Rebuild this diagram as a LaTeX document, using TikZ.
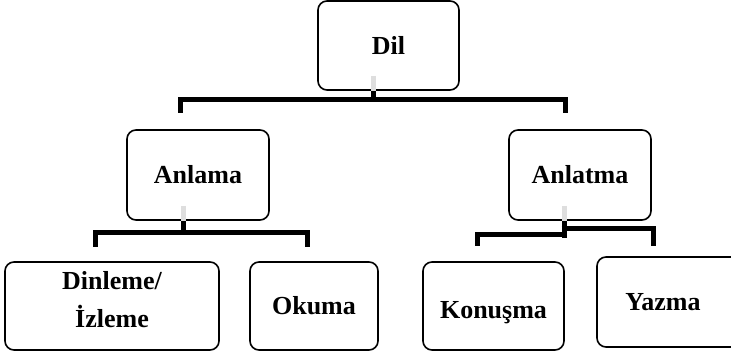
\documentclass[tikz,border=0pt]{standalone}
\usepackage{fontspec}
\setmainfont{Liberation Serif}
\begin{document}
\begin{tikzpicture}[x=1pt,y=-1pt,
  box/.style={draw=black,line width=1.6pt,rounded corners=9pt,fill=white,
    font=\fontsize{26}{38}\selectfont\bfseries,align=center,inner sep=0pt},
  bus/.style={line width=5pt,black,line cap=butt,line join=miter},
  stub/.style={line width=5pt,black!13}]
\useasboundingbox (0,0) rectangle (731,355);
\clip (0,0) rectangle (731,355);
% boxes
\node[box,minimum width=141pt,minimum height=89pt] (dil) at (388.5,45.5) {Dil};
\node[box,minimum width=142pt,minimum height=90pt] (anlama) at (198,175) {Anlama};
\node[box,minimum width=142pt,minimum height=90pt] (anlatma) at (580,175) {Anlatma};
\node[box,minimum width=214pt,minimum height=88pt] (dinleme) at (112,306) {\raisebox{5pt}[\height][\depth]{\begin{tabular}{@{}c@{}}Dinleme/\\İzleme\end{tabular}}};
\node[box,minimum width=128pt,minimum height=88pt] (okuma) at (314,306) {Okuma};
\node[box,minimum width=141pt,minimum height=88pt] (konusma) at (493.5,306) {\raisebox{-7pt}[\height][\depth]{Konuşma}};
\node[box,minimum width=150pt,minimum height=90pt] (yazma) at (672,302) {\hspace*{-18pt}Yazma};
% connectors: Dil
\coordinate (d1) at (180,113);
\coordinate (d2) at (565,113);
\draw[stub] ([xshift=-15.5pt,yshift=15pt]dil.south) -- ([xshift=-15.5pt]dil.south);
\draw[bus] ([xshift=-15.5pt]dil.south) -- ([xshift=-15.5pt,yshift=-10pt]dil.south);
\draw[bus] (d1) |- (373,100) -| (d2);
% Anlama
\coordinate (a1) at (95,247);
\coordinate (a2) at (307,247);
\draw[stub] ([xshift=-15pt,yshift=15pt]anlama.south) -- ([xshift=-15pt]anlama.south);
\draw[bus] ([xshift=-15pt]anlama.south) -- ([xshift=-15pt,yshift=-13pt]anlama.south);
\draw[bus] (a1) |- (183,233) -| (a2);
% Anlatma
\coordinate (b1) at (477,246);
\coordinate (b2) at (653,246);
\draw[stub] ([xshift=-16pt,yshift=15pt]anlatma.south) -- ([xshift=-16pt]anlatma.south);
\draw[bus] ([xshift=-16pt]anlatma.south) -- ([xshift=-16pt,yshift=-17.5pt]anlatma.south);
\draw[bus] (b1) |- (566.5,235);
\draw[bus] (561.5,229) -| (b2);
\end{tikzpicture}
\end{document}
